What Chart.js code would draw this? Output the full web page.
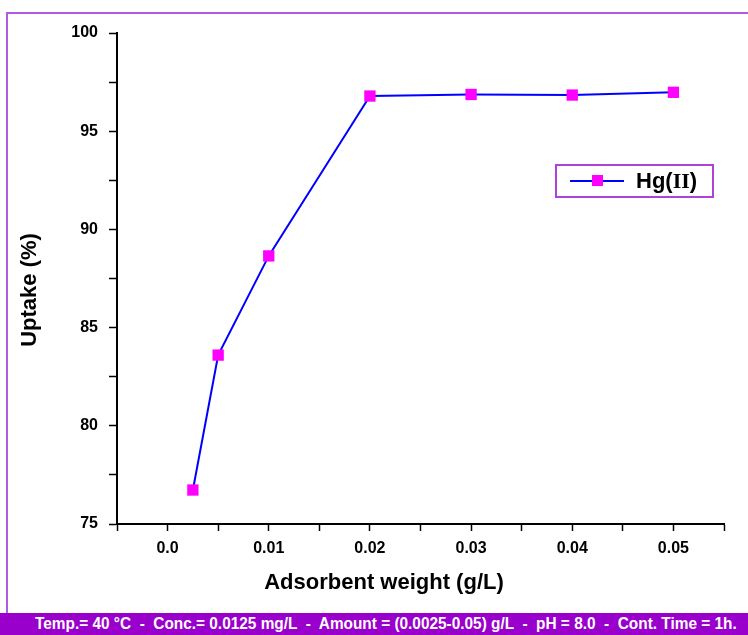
<!DOCTYPE html>
<html>
<head>
<meta charset="utf-8">
<script src="https://cdn.jsdelivr.net/npm/chart.js@4"></script>
<style>
  body { margin: 0; background: #fff; width: 748px; height: 635px; overflow: hidden; position: relative; }
  #frame { position: absolute; left: 6px; top: 12px; width: 760px; height: 610px;
           border-left: 2px solid #b45ae0; border-top: 2px solid #b45ae0; }
  #chartBox { position: absolute; left: 0; top: 0; width: 748px; height: 613px; }
  #band { position: absolute; left: 0; top: 613px; width: 748px; height: 22px; background: #9a00cc; }
  #bandText { position: absolute; left: 35px; top: 0; color: #fff; white-space: pre;
              font: bold 16px "Liberation Sans", Arial, sans-serif; line-height: 22px;
              transform-origin: 0 50%; }
</style>
</head>
<body>
<div id="frame"></div>
<div id="chartBox"><canvas id="uptakeChart" width="748" height="613"></canvas></div>
<div id="band"><span id="bandText">Temp.= 40 °C  -  Conc.= 0.0125 mg/L  -  Amount = (0.0025-0.05) g/L  -  pH = 8.0  -  Cont. Time = 1h.</span></div>
<script>
const adsorbentWeight = [0.0025, 0.005, 0.01, 0.02, 0.03, 0.04, 0.05];
const uptakeHg = [76.73, 83.6, 88.65, 96.79, 96.87, 96.84, 96.98];
const seriesLabel = 'Hg(II)';
const xTitle = 'Adsorbent weight (g/L)';
const yTitle = 'Uptake (%)';

// squeeze the condition line so it fits the band like the original
const bandText = document.getElementById('bandText');
bandText.style.transform = 'scaleX(' + (702 / bandText.offsetWidth) + ')';

const sans = '"Liberation Sans", Arial, sans-serif';
const boldFont = (size) => ({ family: sans, size: size, weight: 'bold' });

// axis titles and the boxed legend, placed like the original figure
const extras = {
  id: 'extras',
  afterDraw(chart) {
    const ctx = chart.ctx;
    const ds = chart.data.datasets[0];
    ctx.save();
    ctx.fillStyle = '#000';
    ctx.font = 'bold 22px ' + sans;
    ctx.textAlign = 'center';
    ctx.textBaseline = 'middle';
    ctx.fillText(xTitle, 384, 583);
    ctx.translate(30, 290);
    ctx.rotate(-Math.PI / 2);
    ctx.fillText(yTitle, 0, 0);
    ctx.restore();

    const x = 556, y = 165, w = 157, h = 32;
    ctx.save();
    ctx.strokeStyle = '#b040d8';
    ctx.lineWidth = 2;
    ctx.strokeRect(x, y, w, h);
    const cy = y + h / 2;
    ctx.strokeStyle = ds.borderColor;
    ctx.lineWidth = ds.borderWidth;
    ctx.beginPath();
    ctx.moveTo(x + 14, cy);
    ctx.lineTo(x + 68, cy);
    ctx.stroke();
    ctx.fillStyle = ds.pointBackgroundColor;
    ctx.fillRect(x + 36, cy - 6, 11, 11);
    // "Hg(" and ")" in sans, the roman numeral in serif as in the original
    ctx.fillStyle = '#000';
    ctx.textBaseline = 'middle';
    const parts = [['Hg(', 'bold 22px ' + sans], ['II', 'bold 22px "Liberation Serif", serif'], [')', 'bold 22px ' + sans]];
    let tx = x + 80;
    const label = ds.label;
    const inner = label.slice(3, -1);
    parts[1][0] = inner;
    parts.forEach(([t, f]) => {
      ctx.font = f;
      ctx.fillText(t, tx, cy + 1);
      tx += ctx.measureText(t).width;
    });
    ctx.restore();
  }
};

new Chart(document.getElementById('uptakeChart'), {
  type: 'line',
  data: {
    datasets: [{
      label: seriesLabel,
      data: adsorbentWeight.map((w, i) => ({ x: w, y: uptakeHg[i] })),
      borderColor: '#0000ff',
      borderWidth: 2,
      pointStyle: 'rect',
      pointRadius: 8,
      pointHoverRadius: 8,
      pointBackgroundColor: '#ff00ff',
      pointBorderWidth: 0,
      tension: 0
    }]
  },
  options: {
    responsive: false,
    animation: false,
    layout: { padding: { left: 10, top: 33, right: 24, bottom: 0 } },
    plugins: { legend: { display: false }, tooltip: { enabled: false } },
    scales: {
      x: {
        type: 'linear',
        min: -0.005,
        max: 0.055,
        ticks: {
          stepSize: 0.005,
          color: '#000',
          font: boldFont(16),
          padding: 8,
          maxRotation: 0,
          autoSkip: false,
          callback: (v) => {
            const k = Math.round(v * 1000);
            if (k % 10 !== 0 || k < 0) return '';
            return k === 0 ? '0.0' : (k / 1000).toFixed(2);
          }
        },
        grid: { drawOnChartArea: false, color: '#000', tickLength: 7, tickWidth: 1.5 },
        border: { color: '#000', width: 2 },
        afterFit: (scale) => { scale.height = 613 - 524; }
      },
      y: {
        min: 75,
        max: 100,
        ticks: {
          stepSize: 2.5,
          color: '#000',
          font: boldFont(16),
          padding: 11,
          callback: (v) => (v % 5 === 0 ? v : '')
        },
        grid: { drawOnChartArea: false, color: '#000', tickLength: 8, tickWidth: 1.5 },
        border: { color: '#000', width: 2 },
        afterFit: (scale) => { scale.width = 117 - 10; }
      }
    }
  },
  plugins: [extras]
});
</script>
</body>
</html>
